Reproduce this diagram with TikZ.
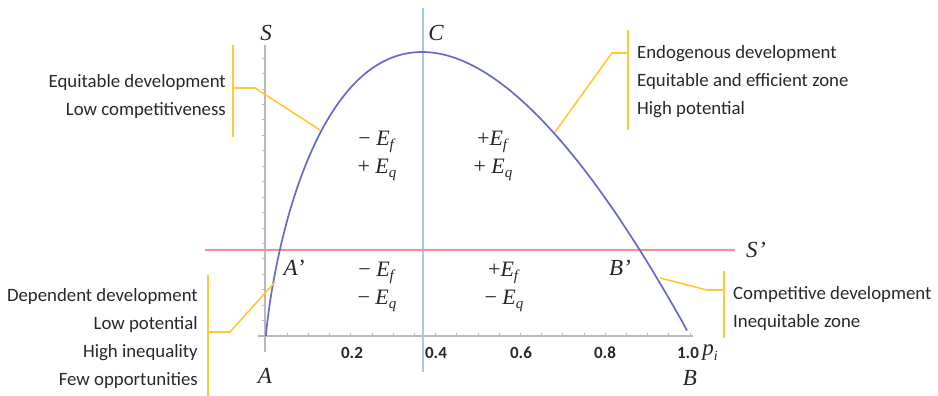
\documentclass[tikz,border=0pt]{standalone}
\usepackage{fontspec}
\newfontfamily\carlito{Carlito}
\newfontfamily\lserif{Liberation Serif}
\definecolor{curveblue}{RGB}{105,105,200}
\definecolor{vblue}{RGB}{165,200,238}
\definecolor{hred}{RGB}{245,140,150}
\definecolor{gold}{RGB}{255,200,55}
\definecolor{axisgray}{RGB}{185,185,185}
\definecolor{txt}{RGB}{40,40,40}
\newcommand{\Esub}[1]{\textit{E}\raisebox{-0.45ex}{\fontsize{15}{15}\selectfont\textit{#1}}}
\begin{document}
\begin{tikzpicture}[x=1pt,y=-1pt,
  curve/.style={draw=curveblue, line width=1.7pt},
  axisline/.style={draw=axisgray, line width=1.6pt},
  tickline/.style={draw=axisgray, line width=0.7pt},
  bracket/.style={draw=gold, line width=1.6pt},
  sidetext/.style={font=\carlito\fontsize{18.8}{28}\selectfont, text=txt, inner sep=0pt},
  ticklab/.style={font=\carlito\bfseries\fontsize{17}{18}\selectfont, text=txt, inner sep=0pt},
  mlab/.style={font=\lserif\itshape\fontsize{23}{25}\selectfont, text=black!85, inner sep=0pt},
  epair/.style={font=\lserif\fontsize{22}{28}\selectfont, text=black!85, align=center, inner sep=0pt}]
\useasboundingbox (0,0) rectangle (938,396);
% axes
\coordinate (xl) at (258,336); \coordinate (xr) at (693,336);
\coordinate (yt) at (265,45); \coordinate (yb) at (265,352);
\draw[axisline] (xl) -- (xr);
\draw[axisline] (yb) -- (yt);
\foreach \k in {1,...,20} \draw[tickline] ({266+21.2*\k},336) -- ++(0,-3);
\foreach \k in {1,...,18} \draw[tickline] (265,{336-15.44*\k}) -- ++(-3,0);
% reference lines
\coordinate (vt) at (423,8); \coordinate (vb) at (423,372);
\draw[draw=vblue, line width=1.4pt] (vt) -- (vb);
\coordinate (hl) at (205,250); \coordinate (hr) at (735,250);
\draw[draw=hred, line width=1.6pt] (hl) -- (hr);
% curve  -p ln p
\draw[curve] (266,336) -- plot[domain=0.02:1, samples=250, smooth] ({266+424*\x*\x}, {336+1544*\x*\x*ln(\x)});
% tick labels
\node[ticklab] (t2) at (352,353) {0.2};
\node[ticklab] (t4) at (436,353) {0.4};
\node[ticklab] (t6) at (521,353) {0.6};
\node[ticklab] (t8) at (605,353) {0.8};
\node[ticklab] (t10) at (688,353) {1.0};
\node[mlab] (pi) at (710,353) {p\raisebox{-0.4ex}{\fontsize{14}{14}\selectfont i}};
% point labels
\node[mlab] (S) at (266,33) {S};
\node[mlab] (C) at (436,33) {C};
\node[mlab] (Sp) at (756,250) {S\kern0.5pt\textquoteright};
\node[mlab] (Ap) at (294,268) {A\textquoteright};
\node[mlab] (Bp) at (620,268) {B\textquoteright};
\node[mlab] (A) at (265,376) {A};
\node[mlab] (B) at (690,378) {B};
% region labels
\node[epair] (q1) at (377,156) {− \Esub{f}\\+ \Esub{q}};
\node[epair] (q2) at (493,156) {+\Esub{f}\\+ \Esub{q}};
\node[epair] (q3) at (377,287) {− \Esub{f}\\− \Esub{q}};
\node[epair] (q4) at (504,287) {+\Esub{f}\\− \Esub{q}};
% side texts
\node[sidetext, align=right, anchor=east] (tl) at (226,96) {Equitable development\\Low competitiveness};
\node[sidetext, align=left, anchor=west] (tr) at (637,82) {Endogenous development\\Equitable and efficient zone\\High potential};
\node[sidetext, align=right, anchor=east] (bl) at (198,338) {Dependent development\\Low potential\\High inequality\\Few opportunities};
\node[sidetext, align=left, anchor=west] (br) at (733,308) {Competitive development\\Inequitable zone};
% brackets
\coordinate (tl1) at (233,45); \coordinate (tl2) at (233,137);
\coordinate (tlm) at (233,88); \coordinate (tlk) at (255,88); \coordinate (tlc) at (320,130);
\draw[bracket] (tl1) -- (tl2);
\draw[bracket] (tlm) -- (tlk) -- (tlc);
\coordinate (tr1) at (628,30); \coordinate (tr2) at (628,130);
\coordinate (trm) at (628,53); \coordinate (trk) at (612,53); \coordinate (trc) at (555,132);
\draw[bracket] (tr1) -- (tr2);
\draw[bracket] (trm) -- (trk) -- (trc);
\coordinate (bl1) at (208,275); \coordinate (bl2) at (208,396);
\coordinate (blm) at (208,332); \coordinate (blk) at (230,332); \coordinate (blc) at (275,282);
\draw[bracket] (bl1) -- (bl2);
\draw[bracket] (blm) -- (blk) -- (blc);
\coordinate (br1) at (724,271); \coordinate (br2) at (724,338);
\coordinate (brm) at (724,290); \coordinate (brk) at (707,290); \coordinate (brc) at (660,278);
\draw[bracket] (br1) -- (br2);
\draw[bracket] (brm) -- (brk) -- (brc);
\end{tikzpicture}
\end{document}
